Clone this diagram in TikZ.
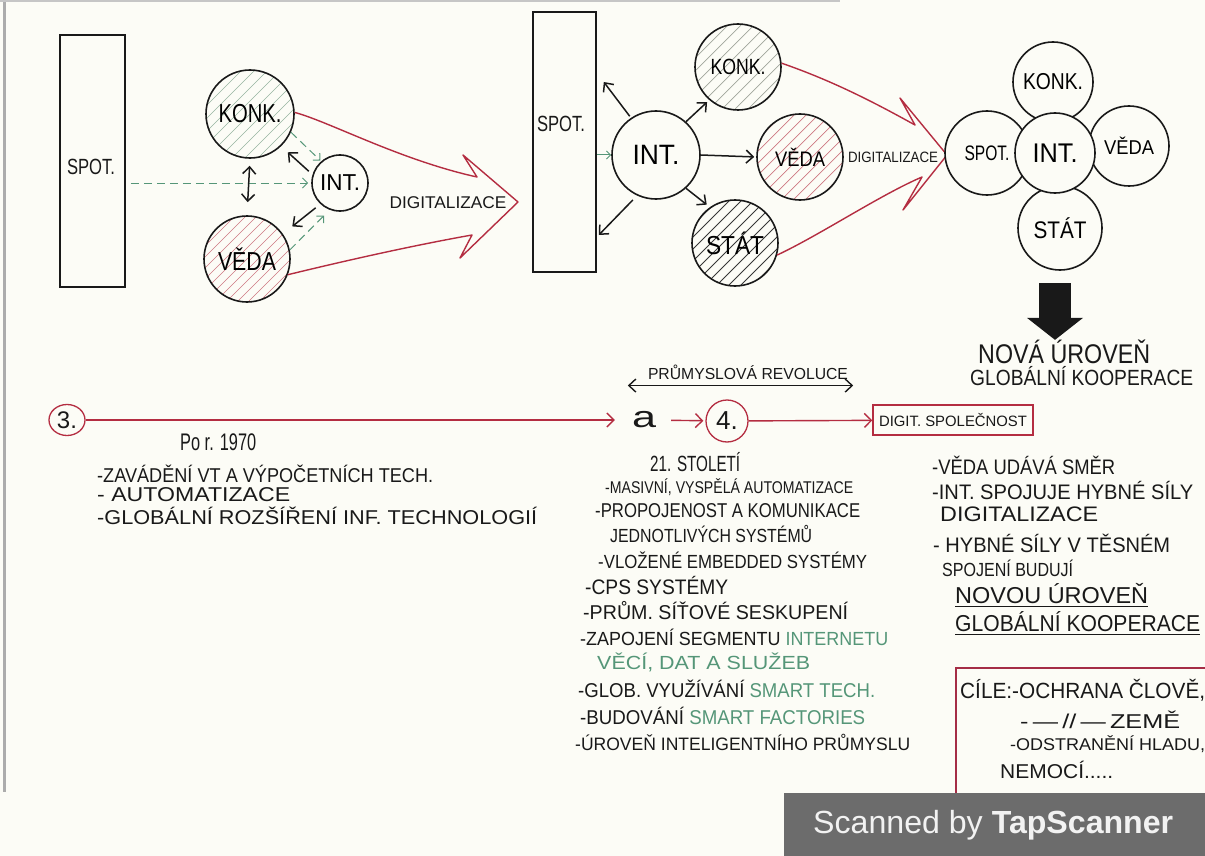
\documentclass[tikz,border=0pt]{standalone}
\usepackage{fontspec}
\setmainfont{Liberation Sans}
\usepackage{graphicx}
\usetikzlibrary{arrows.meta,calc,shapes.geometric}
\definecolor{bg}{RGB}{252,252,246}
\definecolor{inkblack}{RGB}{25,25,25}
\definecolor{inkred}{RGB}{180,45,65}
\definecolor{inkmaroon}{RGB}{165,45,70}
\definecolor{inkgreen}{RGB}{85,150,120}
\definecolor{hgreen}{RGB}{150,180,160}
\definecolor{hred}{RGB}{205,120,130}
\definecolor{hgray}{RGB}{160,165,155}
\definecolor{hblack}{RGB}{55,55,55}
\definecolor{barcol}{RGB}{108,108,108}
\newsavebox\fitbox
\newlength\fitlen
\newcommand\fitto[2]{\sbox\fitbox{#2}\setlength\fitlen{\wd\fitbox}\pgfmathsetmacro\fitsc{#1/\fitlen}\scalebox{\fitsc}[1]{\usebox\fitbox}}
\newcommand\fs[1]{\fontsize{#1}{#1}\selectfont}
\newcommand\gr[1]{\textcolor{inkgreen}{#1}}
\newcommand\hatchat[4]{%
  \begin{scope}
    \clip (#1) circle (#2pt);
    \foreach \i in {-6,...,6}{\draw[#3] ($(#1)+(\i*#4,0)+(-70,70)$) -- ++(140,-140);}
  \end{scope}}
\begin{document}
\begin{tikzpicture}[x=1pt,y=-1pt,
  pen/.style={draw=inkblack, line width=1.6pt},
  circ/.style={circle, draw=inkblack, line width=1.6pt, inner sep=0pt},
  lbl/.style={inner sep=0pt, text=inkblack},
  txt/.style={anchor=west, inner sep=0pt, text=inkblack},
  arr/.style={draw=inkblack, line width=1.5pt, -{Straight Barb[length=7pt,width=13pt]}},
  darr/.style={draw=inkblack, line width=1.5pt, {Straight Barb[length=7pt,width=13pt]}-{Straight Barb[length=7pt,width=13pt]}},
  garr/.style={draw=inkgreen, line width=1pt, dash pattern=on 8pt off 5pt, -{Straight Barb[length=5pt,width=10pt]}},
  gsolid/.style={draw=inkgreen, line width=1pt, -{Straight Barb[length=4pt,width=8pt]}},
  rarr/.style={draw=inkred, line width=1.4pt, -{Straight Barb[length=7pt,width=14pt]}},
  redshape/.style={draw=inkred, line width=1.4pt, line join=round},
  redbox/.style={draw=inkred, line width=1.3pt, inner sep=0pt},
  hatchg/.style={draw=hgreen, line width=0.7pt},
  hatchr/.style={draw=hred, line width=0.7pt},
  hatchk/.style={draw=hgray, line width=0.7pt},
  hatchb/.style={draw=hblack, line width=0.9pt},
  uline/.style={draw=inkblack, line width=1.5pt},
  bigarrow/.style={draw=inkblack, line width=32pt, -{Triangle[length=22pt,width=56pt,line width=0pt]}}
]
\useasboundingbox (0,0) rectangle (1205,856);
\fill[bg] (0,0) rectangle (1205,856);
\draw[gray!65, line width=3pt] (4,0) -- (4,792);
\draw[gray!45, line width=2pt] (0,1) -- (840,1);

% ---------- stage 1
\node[pen, minimum width=65pt, minimum height=252pt, inner sep=0pt] (spot1) at (92.5,161) {};
\node[lbl, font=\fs{22}] (spot1t) at (91,167) {\fitto{48}{SPOT.}};
\coordinate (k1c) at (250,114);
\coordinate (v1c) at (247,259);
\hatchat{k1c}{44}{hatchg}{13}
\hatchat{v1c}{43}{hatchr}{11}
\node[circ, minimum size=88pt, font=\fs{26}] (konk1) at (k1c) {\fitto{63}{KONK.}};
\node[circ, minimum size=86pt, font=\fs{26}] (veda1) at (v1c) {\fitto{58}{VĚDA}};
\node[circ, minimum size=56pt, font=\fs{23}] (int1) at (340,183) {\fitto{40}{INT.}};
\draw[garr, shorten <=5pt, shorten >=3pt] (spot1.east |- int1) -- (int1.west);
\draw[darr, shorten <=7pt, shorten >=13pt] (konk1.south) -- (veda1.north);
\draw[arr, shorten <=5pt, shorten >=9pt] (int1.163) -- (konk1.-46);
\draw[garr, shorten >=1pt] (konk1.-24) -- (int1.131);
\draw[arr, shorten <=6pt, shorten >=12pt] (int1.227) -- (veda1.35);
\draw[garr, shorten >=8pt] (veda1.12) -- (int1.249);
\draw[redshape] (konk1.2) .. controls (330,122) and (400,160) .. (477,177) -- (463,155) -- (518,202) -- (460,258) -- (472,235) .. controls (410,246) and (340,262) .. (veda1.-21);
\node[lbl, font=\fs{17}] (dig1) at (448,203) {\fitto{117}{DIGITALIZACE}};

% ---------- stage 2
\node[pen, minimum width=63pt, minimum height=260pt, inner sep=0pt] (spot2) at (564.5,142) {};
\node[lbl, font=\fs{22}] (spot2t) at (561,124) {\fitto{48}{SPOT.}};
\coordinate (k2c) at (738,67);
\coordinate (v2c) at (800,157);
\coordinate (s2c) at (735,243);
\hatchat{k2c}{43}{hatchk}{13}
\hatchat{v2c}{43}{hatchr}{12}
\hatchat{s2c}{43}{hatchb}{12}
\node[circ, minimum size=88pt, font=\fs{28}] (int2) at (656,155) {\fitto{47}{INT.}};
\node[circ, minimum size=86pt, font=\fs{22}] (konk2) at (k2c) {\fitto{55}{KONK.}};
\node[circ, minimum size=86pt, font=\fs{21}] (veda2) at (v2c) {\fitto{50}{VĚDA}};
\node[circ, minimum size=86pt, font=\fs{26}] (stat2) at (s2c) {\fitto{58}{STÁT}};
\draw[arr, shorten <=2pt] (int2.124) -- ($(spot2.east)+(7,-60)$);
\draw[arr, shorten <=6pt] (int2.245) -- ($(spot2.east)+(2,93)$);
\draw[gsolid] (spot2.east |- int2) -- (int2.west);
\draw[arr, shorten >=3pt] (int2.48) -- (konk2.229);
\draw[arr, shorten >=2pt] (int2.east) -- (veda2.west);
\draw[arr, shorten >=4pt] (int2.-48) -- (stat2.125);
\draw[redshape] (konk2.5) .. controls (830,80) and (870,100) .. (915,125) -- (900,98) -- (947,155) -- (903,210) -- (922,177) .. controls (880,195) and (820,235) .. (stat2.-16);
\node[lbl, font=\fs{15}] (dig2) at (893,157) {\fitto{90}{DIGITALIZACE}};

% ---------- stage 3
\node[circ, fill=bg, minimum size=84pt, font=\fs{21}] (spot3) at (987,153) {\fitto{45}{SPOT.}};
\node[circ, fill=bg, minimum size=80pt, font=\fs{23}] (konk3) at (1053,82) {\fitto{60}{KONK.}};
\node[circ, fill=bg, minimum size=80pt, font=\fs{20}] (veda3) at (1129,146) {\fitto{50}{VĚDA}};
\node[circ, fill=bg, minimum size=84pt, font=\fs{24}] (stat3) at (1060,228) {\fitto{53}{STÁT}};
\node[circ, fill=bg, minimum size=80pt, font=\fs{27}] (int3) at (1055,153) {\fitto{45}{INT.}};
\node[txt, font=\fs{27}] (nova) at (978,352) {\fitto{172}{NOVÁ ÚROVEŇ}};
\node[txt, font=\fs{22}] (glob1) at (970,376) {\fitto{223}{GLOBÁLNÍ KOOPERACE}};
\coordinate (bigtop) at (1055,283);
\draw[bigarrow] (bigtop) -- (bigtop |- nova.north);

% ---------- timeline
\node[ellipse, draw=inkred, line width=1.3pt, minimum width=36pt, minimum height=31pt, inner sep=0pt, font=\fs{24}, text=inkblack] (c3) at (67,420) {3.};
\node[lbl, font=\fs{30}] (a) at (644,420) {\fitto{24}{a}};
\node[circle, redbox, minimum size=42pt, font=\fs{26}, text=inkblack] (c4) at (727,421) {4.};
\node[redbox, minimum width=160pt, minimum height=30pt, font=\fs{15}, text=inkblack] (dig) at (953,420) {\fitto{148}{DIGIT. SPOLEČNOST}};
\draw[rarr, shorten >=17pt] (c3) -- (a);
\draw[rarr, shorten <=15pt, shorten >=2pt] (a) -- (c4);
\draw[rarr] (c4) -- (dig);
\node[lbl, font=\fs{16}] (prum) at (748,372) {\fitto{200}{PRŮMYSLOVÁ REVOLUCE}};
\draw[darr, line width=1.4pt] ([shift={(-20,6)}]prum.south west) -- ([shift={(5,6)}]prum.south east);

% ---------- text block 1
\node[txt, font=\fs{24}] (t1a) at (180,442) {\fitto{76}{Po r. 1970}};
\node[txt, font=\fs{20}] (t1b) at (97,474) {\fitto{336}{-ZAVÁDĚNÍ VT A VÝPOČETNÍCH TECH.}};
\node[txt, font=\fs{20}] (t1c) at (97,495) {\fitto{193}{- AUTOMATIZACE}};
\node[txt, font=\fs{20}] (t1d) at (97,516) {\fitto{440}{-GLOBÁLNÍ ROZŠÍŘENÍ INF. TECHNOLOGIÍ}};

% ---------- text block 2
\node[txt, font=\fs{22}] (t2a) at (650,462) {\fitto{90}{21. STOLETÍ}};
\node[txt, font=\fs{17}] (t2b) at (605,487) {\fitto{248}{-MASIVNÍ, VYSPĚLÁ AUTOMATIZACE}};
\node[txt, font=\fs{20}] (t2c) at (595,511) {\fitto{265}{-PROPOJENOST A KOMUNIKACE}};
\node[txt, font=\fs{19}] (t2d) at (610,534) {\fitto{202}{JEDNOTLIVÝCH SYSTÉMŮ}};
\node[txt, font=\fs{19}] (t2e) at (598,560) {\fitto{269}{-VLOŽENÉ EMBEDDED SYSTÉMY}};
\node[txt, font=\fs{21}] (t2f) at (585,585) {\fitto{143}{-CPS SYSTÉMY}};
\node[txt, font=\fs{20}] (t2g) at (583,611) {\fitto{265}{-PRŮM. SÍŤOVÉ SESKUPENÍ}};
\node[txt, font=\fs{19}] (t2h) at (580,637) {\fitto{308}{-ZAPOJENÍ SEGMENTU \gr{INTERNETU}}};
\node[txt, font=\fs{19}, text=inkgreen] (t2i) at (597,662) {\fitto{213}{VĚCÍ, DAT A SLUŽEB}};
\node[txt, font=\fs{20}] (t2j) at (578,689) {\fitto{297}{-GLOB. VYUŽÍVÁNÍ \gr{SMART TECH.}}};
\node[txt, font=\fs{20}] (t2k) at (580,716) {\fitto{285}{-BUDOVÁNÍ \gr{SMART FACTORIES}}};
\node[txt, font=\fs{18}] (t2l) at (575,742) {\fitto{335}{-ÚROVEŇ INTELIGENTNÍHO PRŮMYSLU}};

% ---------- text block 3
\node[txt, font=\fs{21}] (t3a) at (932,465) {\fitto{183}{-VĚDA UDÁVÁ SMĚR}};
\node[txt, font=\fs{21}] (t3b) at (932,490) {\fitto{261}{-INT. SPOJUJE HYBNÉ SÍLY}};
\node[txt, font=\fs{21}] (t3c) at (940,514) {\fitto{158}{DIGITALIZACE}};
\node[txt, font=\fs{21}] (t3d) at (933,543) {\fitto{237}{- HYBNÉ SÍLY V TĚSNÉM}};
\node[txt, font=\fs{19}] (t3e) at (942,568) {\fitto{131}{SPOJENÍ BUDUJÍ}};
\node[txt, font=\fs{23}] (t3f) at (955,594) {\fitto{193}{NOVOU ÚROVEŇ}};
\node[txt, font=\fs{23}] (t3g) at (955,622) {\fitto{245}{GLOBÁLNÍ KOOPERACE}};
\draw[uline] ([yshift=-2pt]t3f.south west) -- ([yshift=-2pt]t3f.south east);
\draw[uline] ([yshift=-2pt]t3g.south west) -- ([yshift=-2pt]t3g.south east);

% ---------- goals box
\node[draw=inkmaroon, line width=1.5pt, anchor=north west, minimum width=262pt, minimum height=140pt, inner sep=0pt] (cile) at (955,667) {};
\node[txt, font=\fs{22}] (t4a) at (960,690) {\fitto{245}{CÍLE:-OCHRANA ČLOVĚ,}};
\node[txt, font=\fs{20}] (t4b) at (1020,720) {\fitto{160}{-\,—\,//\,—\,ZEMĚ}};
\node[txt, font=\fs{17}] (t4c) at (1010,744) {\fitto{195}{-ODSTRANĚNÍ HLADU,}};
\node[txt, font=\fs{20}] (t4d) at (1000,770) {\fitto{113}{NEMOCÍ.....}};

% ---------- scanner bar
\fill[barcol] (784,793) rectangle (1205,856);
\node[txt, text=white!95!black, font=\fs{32}] (scan) at (813,825) {\fitto{360}{Scanned by \textbf{TapScanner}}};
\end{tikzpicture}
\end{document}
